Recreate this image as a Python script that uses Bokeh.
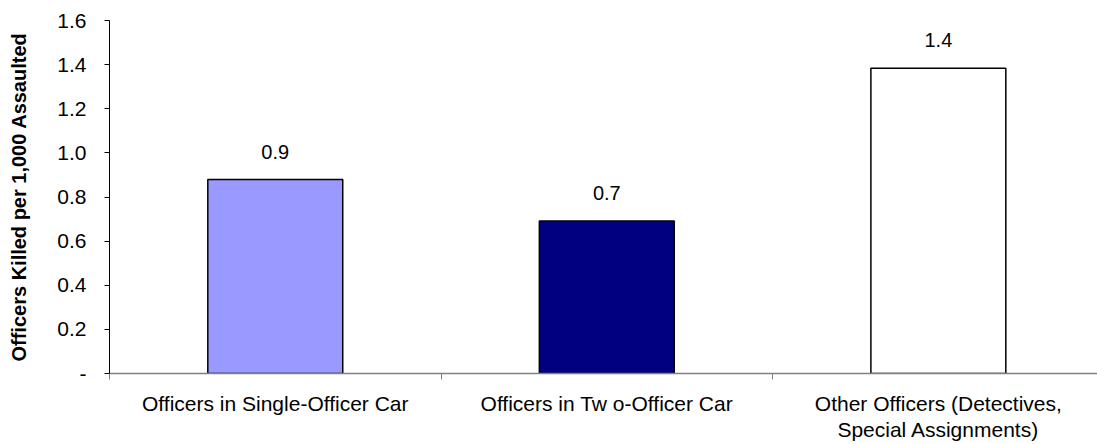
from bokeh.plotting import figure
from bokeh.models import FixedTicker, ColumnDataSource, Range1d, NumeralTickFormatter
from bokeh.core.properties import value
from bokeh.embed import file_html
from bokeh.resources import INLINE

categories = ["Officers in Single-Officer Car", "Officers in Tw o-Officer Car",
              "Other Officers (Detectives,\nSpecial Assignments)"]
rates = [0.879, 0.691, 1.384]
colors = ["#9999FF", "#000080", "#FFFFFF"]
y_ticks = [0.0, 0.2, 0.4, 0.6, 0.8, 1.0, 1.2, 1.4, 1.6]

FONT = "Liberation Sans"

xs = [i + 0.5 for i in range(len(categories))]
src = ColumnDataSource(dict(x=xs, top=rates, color=colors,
                            label=[f"{v:.1f}" for v in rates]))

p = figure(width=1097, height=444, output_backend="svg", toolbar_location=None,
           x_range=Range1d(0, 2.98), y_range=Range1d(0, 1.6),
           min_border_left=109, min_border_right=0, min_border_top=20,
           min_border_bottom=71)
p.outline_line_color = None
p.grid.visible = False

p.vbar(x="x", top="top", width=0.407, bottom=0, fill_color="color",
       line_color="black", line_width=1.5, source=src)
p.text(x="x", y="top", text="label", source=src, text_align="center",
       text_baseline="bottom", y_offset=-21, text_font=value(FONT),
       text_font_size="20px", text_color="black")

xa = p.xaxis[0]
xa.ticker = FixedTicker(ticks=xs, minor_ticks=[0, 1, 2, 3])
xa.major_label_overrides = {x: c for x, c in zip(xs, categories)}
xa.major_tick_out = 0
xa.major_tick_in = 0
xa.minor_tick_out = 6
xa.minor_tick_in = 0
xa.minor_tick_line_color = "#808080"
xa.axis_line_color = "#808080"
xa.axis_line_width = 1.5
xa.major_label_standoff = 12
xa.major_label_text_font = FONT
xa.major_label_text_font_size = "21px"
xa.major_label_text_line_height = 1.15
xa.major_label_text_color = "black"

ya = p.yaxis[0]
ya.ticker = FixedTicker(ticks=y_ticks)
ya.formatter = NumeralTickFormatter(format="0.0")
ya.major_label_overrides = {0: "-"}
ya.minor_tick_line_color = None
ya.major_tick_out = 5
ya.major_tick_in = 0
ya.major_tick_line_color = "black"
ya.axis_line_color = "black"
ya.major_label_standoff = 18
ya.major_label_text_font = FONT
ya.major_label_text_font_size = "21px"
ya.major_label_text_color = "black"
ya.axis_label = "Officers Killed per 1,000 Assaulted"
ya.axis_label_text_font = FONT
ya.axis_label_text_font_style = "bold"
ya.axis_label_text_font_size = "20px"
ya.axis_label_text_color = "black"
ya.axis_label_standoff = 24

open("out.html", "w").write(file_html(p, INLINE))
